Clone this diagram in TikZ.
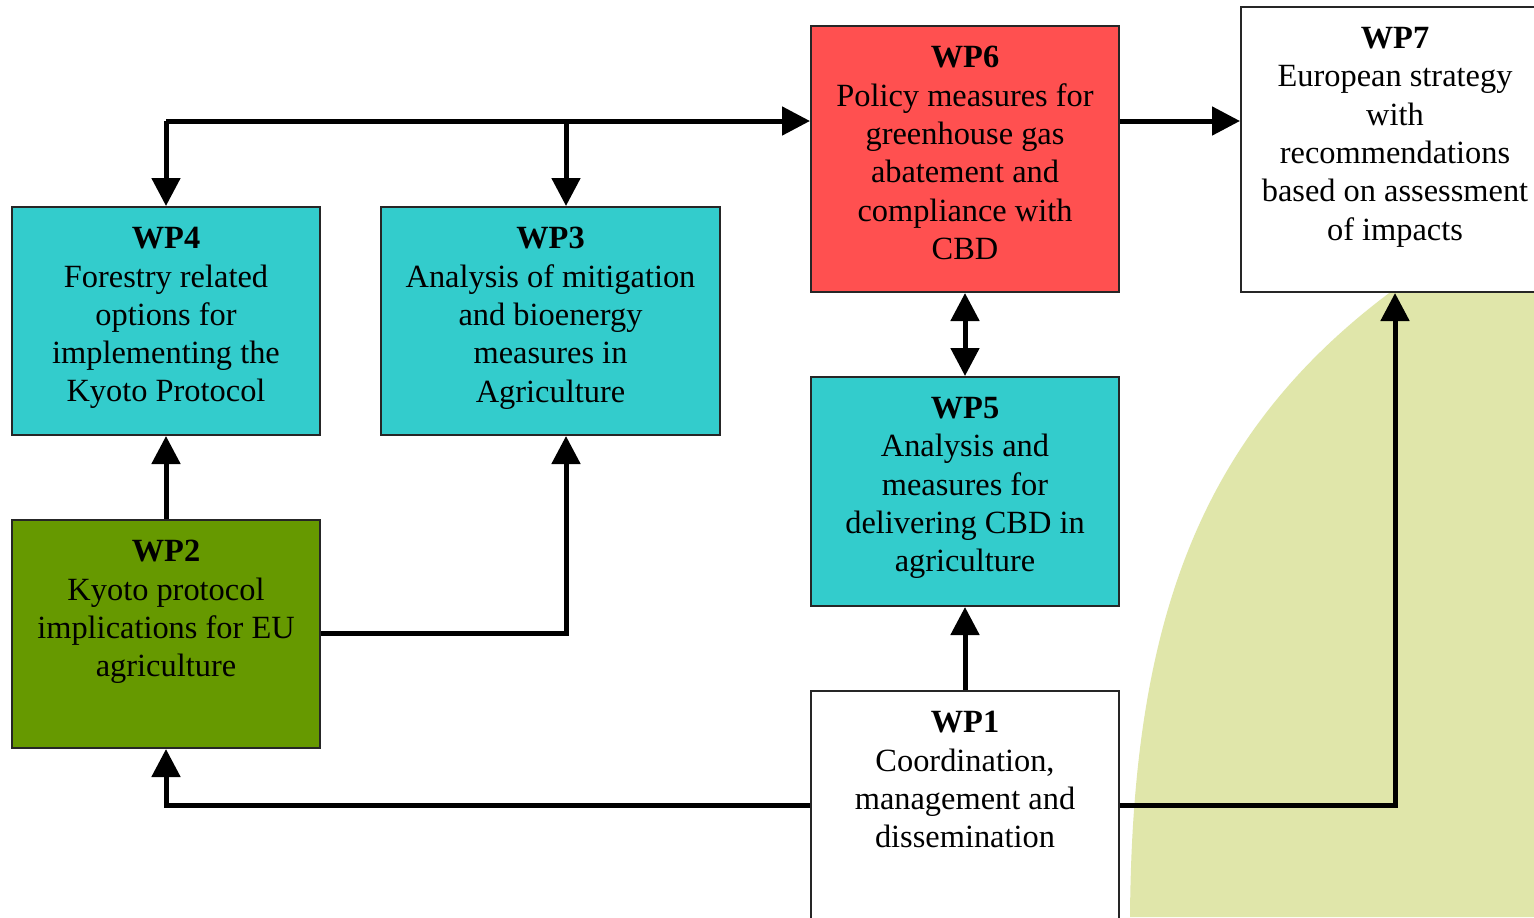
\documentclass[tikz,border=0pt]{standalone}
\usepackage{fontspec}
\setmainfont{Liberation Serif}
\usetikzlibrary{positioning}
\usetikzlibrary{arrows.meta}
\usepackage{xcolor}
\definecolor{wpteal}{RGB}{51,204,204}
\definecolor{wpred}{RGB}{255,80,80}
\definecolor{wpgreen}{RGB}{102,153,0}
\definecolor{leaf}{RGB}{224,230,170}

\tikzset{
 wp/.style={draw=black!85, line width=1pt, rectangle, inner sep=0, minimum width=154pt},
 wptext/.style={inner sep=0, align=center, font=\fontsize{16.2}{19.15}\selectfont},
 flow/.style={line width=2.5pt, >={Triangle[length=14pt,width=14pt]}}
}

\begin{document}
\begin{tikzpicture}[x=0.5pt, y=-0.5pt]
\useasboundingbox (0,0) rectangle (1534,917);
\clip (0,0) rectangle (1534,917);
\fill[white] (0,0) rectangle (1534,917);
% faded background picture
\fill[leaf] (1130,917) .. controls (1132,620) and (1200,430) .. (1400,285) -- (1534,285) -- (1534,917) -- cycle;

\node[wp, fill=wpteal, minimum height=114pt] (wp4) at (166,321) {};
\node[wp, fill=wpteal, minimum width=169.5pt, minimum height=114pt] (wp3) at (550.5,321) {};
\node[wp, fill=wpred, minimum height=133pt] (wp6) at (965,159) {};
\node[wp, fill=white, minimum height=142.5pt] (wp7) at (1395,149.5) {};
\node[wp, fill=wpteal, minimum height=114.5pt] (wp5) at (965,491.5) {};
\node[wp, fill=wpgreen, minimum height=114pt] (wp2) at (166,634) {};
\node[wp, fill=white, minimum height=140pt] (wp1) at (965,831) {};

\node[wptext, below=10.5pt of wp4.north] (wp4t) {\textbf{WP4}\\Forestry related\\options for\\implementing the\\Kyoto Protocol};
\node[wptext, below=10.5pt of wp3.north] (wp3t) {\textbf{WP3}\\Analysis of mitigation\\and bioenergy\\measures in\\Agriculture};
\node[wptext, below=10.5pt of wp6.north] (wp6t) {\textbf{WP6}\\Policy measures for\\greenhouse gas\\abatement and\\compliance with\\CBD};
\node[wptext, below=10.5pt of wp7.north] (wp7t) {\textbf{WP7}\\European strategy\\with\\recommendations\\based on assessment\\of impacts};
\node[wptext, below=10.5pt of wp5.north] (wp5t) {\textbf{WP5}\\Analysis and\\measures for\\delivering CBD in\\agriculture};
\node[wptext, below=10.5pt of wp2.north] (wp2t) {\textbf{WP2}\\Kyoto protocol\\implications for EU\\agriculture};
\node[wptext, below=10.5pt of wp1.north] (wp1t) {\textbf{WP1}\\Coordination,\\management and\\dissemination};

\coordinate (bus) at (166,121);
\coordinate (bus3) at (566,121);
\coordinate (low) at (166,805);
\coordinate (mid) at (566,633);

\draw[flow, ->] (bus) -- (bus -| wp6.west);
\draw[flow, ->] (bus) -- (wp4.north);
\draw[flow, ->] (bus3) -- (bus3 |- wp3.north);
\draw[flow, ->] (wp6.east |- bus) -- (wp7.west |- bus);
\draw[flow, <->] (wp6.south) -- (wp5.north);
\draw[flow, ->] (wp1.north) -- (wp5.south);
\draw[flow, ->] (wp2.north) -- (wp4.south);
\draw[flow, ->] (mid -| wp2.east) -- (mid) -- (mid |- wp3.south);
\draw[flow, ->] (low -| wp1.west) -- (low) -- (wp2.south);
\draw[flow, ->] (low -| wp1.east) -- (low -| wp7.south) -- (wp7.south);
\end{tikzpicture}
\end{document}
